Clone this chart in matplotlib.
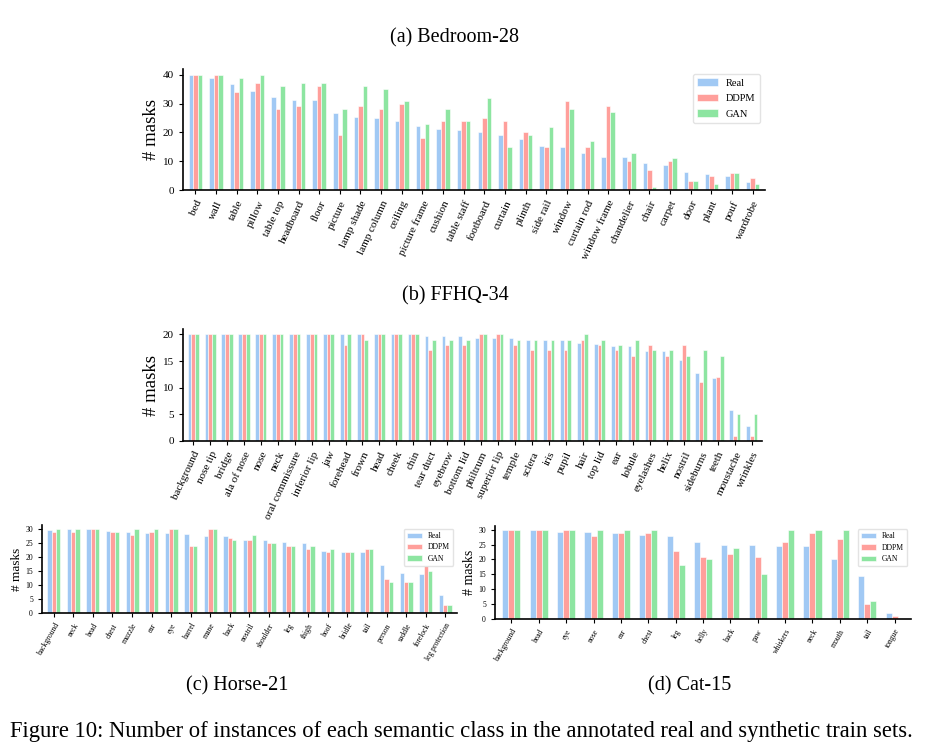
import numpy as np
import matplotlib
matplotlib.use('Agg')
import matplotlib.pyplot as plt

plt.rcParams['font.family'] = ['Liberation Serif', 'DejaVu Serif']

# ---- data ----
bed_cats = ['bed', 'wall', 'table', 'pillow', 'table top', 'headboard', 'floor', 'picture',
            'lamp shade', 'lamp column', 'ceiling', 'picture frame', 'cushion', 'table staff',
            'footboard', 'curtain', 'plinth', 'side rail', 'window', 'curtain rod',
            'window frame', 'chandelier', 'chair', 'carpet', 'door', 'plant', 'pouf', 'wardrobe']
bed_real = [40, 39, 36.7, 34.5, 32.3, 31.3, 31.1, 26.9, 25.5, 24.9, 24.1, 22.3, 21.3, 20.9,
            20, 19.2, 17.8, 15.2, 14.9, 12.7, 11.5, 11.4, 9.3, 8.6, 6.3, 5.6, 4.9, 2.9]
bed_ddpm = [40, 40, 34, 37, 28, 29, 36, 19, 29, 28, 30, 18, 24, 24,
            25, 24, 20, 15, 31, 15, 29, 10, 7, 10, 3, 5, 6, 4]
bed_gan = [40, 40, 39, 40, 36, 37, 37, 28, 36, 35, 31, 23, 28, 24,
           32, 15, 19, 22, 28, 17, 27, 13, 1, 11, 3, 2, 6, 2]

ffhq_cats = ['background', 'nose tip', 'bridge', 'ala of nose', 'nose', 'neck',
             'oral commissure', 'inferior lip', 'jaw', 'forehead', 'frown', 'head', 'cheek',
             'chin', 'tear duct', 'eyebrow', 'bottom lid', 'philtrum', 'superior lip', 'temple',
             'sclera', 'iris', 'pupil', 'hair', 'top lid', 'ear', 'lobule', 'eyelashes', 'helix',
             'nostril', 'sideburns', 'teeth', 'moustache', 'wrinkles']
ffhq_real = [20, 20, 20, 20, 20, 20, 20, 20, 20, 20, 20, 20, 20, 20, 19.6, 19.6, 19.7,
             19.4, 19.4, 19.25, 19, 19, 19, 18.4, 18.2, 17.8, 17.8, 16.8, 16.8, 15.2,
             12.75, 11.8, 5.9, 2.9]
ffhq_ddpm = [20, 20, 20, 20, 20, 20, 20, 20, 20, 18, 20, 20, 20, 20, 17, 18, 18,
             20, 20, 18, 17, 17, 17, 19, 18, 17, 16, 18, 16, 18, 11, 12, 1, 1]
ffhq_gan = [20, 20, 20, 20, 20, 20, 20, 20, 20, 20, 19, 20, 20, 20, 19, 19, 19,
            20, 20, 19, 19, 19, 19, 20, 19, 18, 19, 17, 17, 16, 17, 16, 5, 5]

horse_cats = ['background', 'neck', 'head', 'chest', 'muzzle', 'ear', 'eye', 'barrel', 'mane',
              'back', 'nostril', 'shoulder', 'leg', 'thigh', 'hoof', 'bridle', 'tail', 'person',
              'saddle', 'forelock', 'leg protection']
horse_real = [29.8, 30, 30, 29.4, 29.1, 28.6, 28.6, 28.2, 27.7, 27.5, 26, 26.2, 25.3, 25,
              22.3, 21.8, 21.7, 17.1, 14.3, 13.9, 6.3]
horse_ddpm = [29, 29, 30, 29, 28, 29, 30, 24, 30, 27, 26, 25, 24, 23, 22, 22, 23, 12, 11, 17, 3]
horse_gan = [30, 30, 30, 29, 30, 30, 30, 24, 30, 26, 28, 25, 24, 24, 23, 22, 23, 11, 11, 15, 3]

cat_cats = ['background', 'head', 'eye', 'nose', 'ear', 'chest', 'leg', 'belly', 'back', 'paw',
            'whiskers', 'neck', 'mouth', 'tail', 'tongue']
cat_real = [30, 30, 29.4, 29.4, 28.9, 28.4, 28.1, 26, 25, 25, 24.6, 24.6, 20.2, 14.3, 1.9]
cat_ddpm = [30, 30, 30, 28, 29, 29, 23, 21, 22, 21, 26, 29, 27, 5, 1]
cat_gan = [30, 30, 30, 30, 30, 30, 18, 20, 24, 15, 30, 30, 30, 6, 0]

colors = ['#a1c9f4', '#ff9f9b', '#8de5a1']
names = ['Real', 'DDPM', 'GAN']


# grouped bar chart on one axes
def draw(ax, cats, series, tick_fs, lab_fs, rot, legend_fs=None, yticks=None, spacing=0.6):
    x = np.arange(len(cats))
    w = 0.22
    for k, vals in enumerate(series):
        ax.bar(x + (k - 1) * w, vals, w, color=colors[k], edgecolor='white',
               linewidth=0.4, label=names[k])
    ax.set_xlim(-0.6, len(cats) - 0.4)
    ax.set_xticks(x)
    ax.set_xticklabels(cats, rotation=rot, ha='right', rotation_mode='anchor',
                       fontsize=tick_fs)
    if yticks is not None:
        ax.set_yticks(yticks)
    ax.tick_params(axis='y', labelsize=tick_fs, length=3, width=0.8)
    ax.tick_params(axis='x', length=3, width=0.8)
    ax.set_ylabel('# masks', fontsize=lab_fs, labelpad=2)
    ax.spines['top'].set_visible(False)
    ax.spines['right'].set_visible(False)
    for s in ['left', 'bottom']:
        ax.spines[s].set_linewidth(1.2)
    if legend_fs is not None:
        ax.legend(loc='upper right', fontsize=legend_fs, frameon=True,
                  edgecolor='#dddddd', fancybox=True, labelspacing=spacing)


fig = plt.figure(figsize=(9.36, 7.48), dpi=100)

ax1 = fig.add_axes([183 / 936, 1 - 190 / 748, 582 / 936, 121 / 748])
draw(ax1, bed_cats, [bed_real, bed_ddpm, bed_gan], 8, 13.5, 65, legend_fs=7.5,
     yticks=[0, 10, 20, 30, 40])

ax2 = fig.add_axes([183 / 936, 1 - 441 / 748, 579 / 936, 112 / 748])
draw(ax2, ffhq_cats, [ffhq_real, ffhq_ddpm, ffhq_gan], 8, 13.5, 65,
     yticks=[0, 5, 10, 15, 20])

ax3 = fig.add_axes([42 / 936, 1 - 613 / 748, 415 / 936, 88 / 748])
draw(ax3, horse_cats, [horse_real, horse_ddpm, horse_gan], 5.5, 9.5, 60, legend_fs=5.5,
     yticks=[0, 5, 10, 15, 20, 25, 30], spacing=0.45)

ax4 = fig.add_axes([495 / 936, 1 - 618.5 / 748, 416 / 936, 93 / 748])
draw(ax4, cat_cats, [cat_real, cat_ddpm, cat_gan], 5.5, 10, 60, legend_fs=5.5,
     yticks=[0, 5, 10, 15, 20, 25, 30], spacing=0.45)

fig.text(455 / 936, 1 - 38 / 748, '(a) Bedroom-28', ha='center', va='center', fontsize=14.5)
fig.text(455 / 936, 1 - 296 / 748, '(b) FFHQ-34', ha='center', va='center', fontsize=14.5)
fig.text(237 / 936, 1 - 686 / 748, '(c) Horse-21', ha='center', va='center', fontsize=14.5)
fig.text(690 / 936, 1 - 686 / 748, '(d) Cat-15', ha='center', va='center', fontsize=14.5)
fig.text(10 / 936, 1 - 731 / 748,
         'Figure 10: Number of instances of each semantic class in the annotated real and synthetic train sets.',
         ha='left', va='center', fontsize=16.3)

fig.savefig('out.png', dpi=100)
